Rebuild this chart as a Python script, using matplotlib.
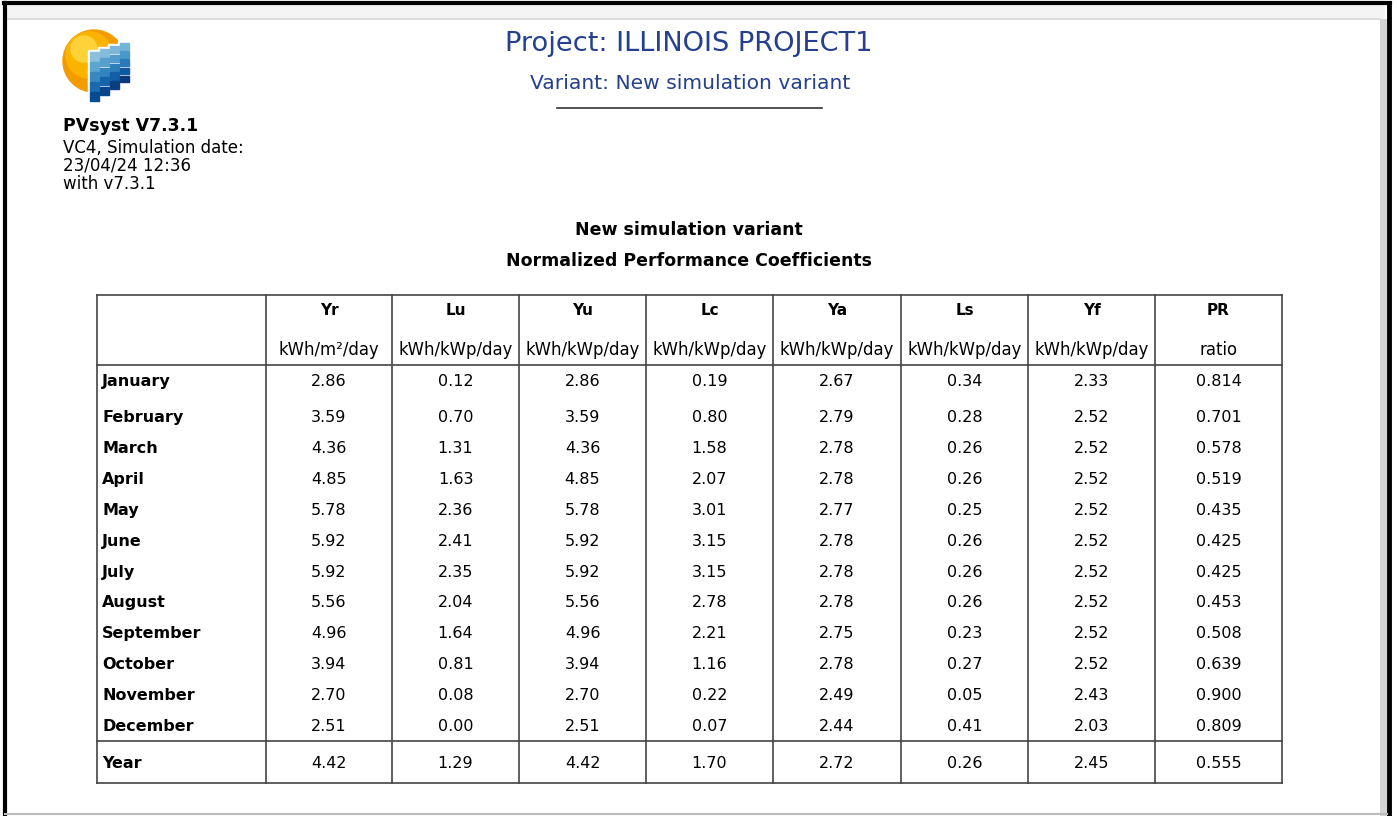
import matplotlib.pyplot as plt
from matplotlib.patches import Circle, Rectangle

plt.rcParams['font.family'] = ['DejaVu Sans']

# table data
months = ["January", "February", "March", "April", "May", "June", "July",
          "August", "September", "October", "November", "December"]
columns = ["Yr", "Lu", "Yu", "Lc", "Ya", "Ls", "Yf", "PR"]
units = ["kWh/m²/day", "kWh/kWp/day", "kWh/kWp/day", "kWh/kWp/day",
         "kWh/kWp/day", "kWh/kWp/day", "kWh/kWp/day", "ratio"]
Yr = [2.86, 3.59, 4.36, 4.85, 5.78, 5.92, 5.92, 5.56, 4.96, 3.94, 2.70, 2.51]
Lu = [0.12, 0.70, 1.31, 1.63, 2.36, 2.41, 2.35, 2.04, 1.64, 0.81, 0.08, 0.00]
Yu = [2.86, 3.59, 4.36, 4.85, 5.78, 5.92, 5.92, 5.56, 4.96, 3.94, 2.70, 2.51]
Lc = [0.19, 0.80, 1.58, 2.07, 3.01, 3.15, 3.15, 2.78, 2.21, 1.16, 0.22, 0.07]
Ya = [2.67, 2.79, 2.78, 2.78, 2.77, 2.78, 2.78, 2.78, 2.75, 2.78, 2.49, 2.44]
Ls = [0.34, 0.28, 0.26, 0.26, 0.25, 0.26, 0.26, 0.26, 0.23, 0.27, 0.05, 0.41]
Yf = [2.33, 2.52, 2.52, 2.52, 2.52, 2.52, 2.52, 2.52, 2.52, 2.52, 2.43, 2.03]
PR = [0.814, 0.701, 0.578, 0.519, 0.435, 0.425, 0.425, 0.453, 0.508, 0.639, 0.900, 0.809]
year_row = [4.42, 1.29, 4.42, 1.70, 2.72, 0.26, 2.45, 0.555]

fig = plt.figure(figsize=(13.97, 8.16), dpi=100)
ax = fig.add_axes([0, 0, 1, 1])
ax.set_xlim(0, 1397)
ax.set_ylim(816, 0)
ax.axis("off")

# page frame
ax.add_patch(Rectangle((5, 5), 1380, 14, color="#f4f4f4", lw=0))
ax.plot([5, 1380], [19, 19], color="#d8d8d8", lw=1.2)
ax.add_patch(Rectangle((1380, 19), 7, 800, color="#d4d4d4", lw=0))
ax.plot([5, 5], [3, 816], color="black", lw=3)
ax.plot([4, 1390], [3, 3], color="black", lw=3)
ax.plot([1389, 1389], [3, 816], color="black", lw=3.5)
ax.plot([5, 1387], [814, 814], color="#bbbbbb", lw=1.5)

# logo: sun + curved panel grid
ax.add_patch(Circle((94, 61), 31, color="#f39c00", zorder=2))
ax.add_patch(Circle((89, 55), 23, color="#fab400", zorder=2))
ax.add_patch(Circle((84, 49), 13, color="#ffd23a", zorder=2))
for j in range(4):
    top_j = 52 - 3 * j
    h_j = (50 - 3 * j) / 5
    for i in range(5):
        x0, y0 = 90 + j * 10, top_j + i * h_j
        ax.add_patch(Rectangle((x0 - 2, y0 - 2), 12.5, h_j + 2.5,
                               color="white", zorder=3))
for j in range(4):
    top_j = 52 - 3 * j
    h_j = (50 - 3 * j) / 5
    for i in range(5):
        col = plt.cm.Blues(0.42 + 0.12 * i + 0.02 * j)
        ax.add_patch(Rectangle((90 + j * 10, top_j + i * h_j), 8.5, h_j - 1.5,
                               color=col, zorder=4))

ax.text(63, 131, "PVsyst V7.3.1", fontsize=12.5, fontweight="bold")
ax.text(63, 153, "VC4, Simulation date:", fontsize=12)
ax.text(63, 171, "23/04/24 12:36", fontsize=12)
ax.text(63, 189, "with v7.3.1", fontsize=12)

# header
ax.text(689, 51, "Project: ILLINOIS PROJECT1", fontsize=19.6, color="#25408f",
        ha="center")
ax.text(690, 89, "Variant: New simulation variant", fontsize=14.6, color="#25408f",
        ha="center")
ax.plot([557, 822], [108, 108], color="#333333", lw=1.2)

ax.text(689, 235, "New simulation variant", fontsize=12.5, fontweight="bold",
        ha="center")
ax.text(689, 266, "Normalized Performance Coefficients", fontsize=12.5,
        fontweight="bold", ha="center")

# table grid
col_edges = [97, 266, 392, 519, 646, 773, 901, 1028, 1155, 1282]
top, head_bottom, sep, bottom = 295, 365, 741, 783
row_y = [386, 422, 453, 484, 515, 546, 577, 607, 638, 669, 700, 731]
year_y = 768
line_kw = dict(color="#444444", lw=1.2)
for x in col_edges:
    ax.plot([x, x], [top, bottom], **line_kw)
for y in [top, head_bottom, sep, bottom]:
    ax.plot([col_edges[0], col_edges[-1]], [y, y], **line_kw)

centers = [(col_edges[i] + col_edges[i + 1]) / 2 for i in range(1, 9)]
for cx, name, unit in zip(centers, columns, units):
    ax.text(cx, 315, name, fontsize=11, fontweight="bold", ha="center")
    ax.text(cx, 355, unit, fontsize=11.9, ha="center")

series = [Yr, Lu, Yu, Lc, Ya, Ls, Yf, PR]
for r, (m, y) in enumerate(zip(months, row_y)):
    ax.text(102, y, m, fontsize=11.5, fontweight="bold")
    for c, (cx, s) in enumerate(zip(centers, series)):
        fmt = "{:.3f}" if c == 7 else "{:.2f}"
        ax.text(cx, y, fmt.format(s[r]), fontsize=11.5, ha="center")

ax.text(102, year_y, "Year", fontsize=11.5, fontweight="bold")
for c, (cx, v) in enumerate(zip(centers, year_row)):
    fmt = "{:.3f}" if c == 7 else "{:.2f}"
    ax.text(cx, year_y, fmt.format(v), fontsize=11.5, ha="center")

fig.savefig("out.png", dpi=100)
